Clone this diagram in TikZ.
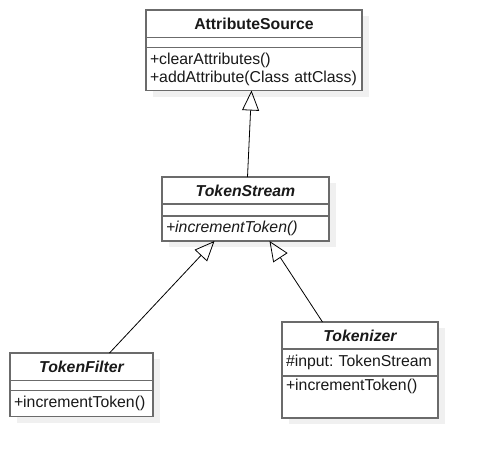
\documentclass[tikz,border=0pt]{standalone}
\usepackage{fontspec}
\setmainfont{Liberation Sans}
\usetikzlibrary{arrows.meta,positioning,shadows}
\frenchspacing

\begin{document}
\begin{tikzpicture}[x=1pt, y=-1pt, >={Triangle[open, length=20pt, width=17pt]},
    cls/.style={draw=black!58, line width=1.6pt, fill=white, outer sep=0pt,
      inner xsep=4pt, inner ysep=3pt, text=black!90,
      font=\fontsize{15.8}{18}\selectfont,
      drop shadow={shadow xshift=7pt, shadow yshift=-6pt, fill=black!6, opacity=1}},
    clshead/.style={cls, minimum height=27.5pt, font=\fontsize{15.8}{18}\selectfont\bfseries},
    abstract/.style={clshead, font=\fontsize{15.8}{18}\selectfont\bfseries\itshape},
    clsattr/.style={cls, minimum height=10pt},
    clsop/.style={cls, align=left},
    inherit/.style={->, line width=0.8pt, black}]
    \useasboundingbox (0,0) rectangle (479,459);
    % --- AttributeSource ---
    \node[clshead, minimum width=216pt, anchor=north west] (as) at (146,10) {AttributeSource};
    \node[clsattr, minimum width=216pt, below=0pt of as] (as-attr) {};
    \node[clsop, text width=208pt, minimum height=43pt, below=0pt of as-attr] (as-op)
      {+clearAttributes()\\+addAttribute(Class attClass)};
    % --- TokenStream (abstract) ---
    \node[abstract, minimum width=167pt, minimum height=27pt, anchor=north west] (ts) at (162,177) {TokenStream};
    \node[clsattr, minimum width=167pt, minimum height=12pt, below=0pt of ts] (ts-attr) {};
    \node[clsop, text width=159pt, minimum height=25pt, below=0pt of ts-attr] (ts-op)
      {\itshape +incrementToken()};
    % --- TokenFilter ---
    \node[abstract, minimum width=143pt, anchor=north west] (tf) at (10,353) {TokenFilter};
    \node[clsattr, minimum width=143pt, below=0pt of tf] (tf-attr) {};
    \node[clsop, text width=135pt, minimum height=26pt, below=0pt of tf-attr] (tf-op)
      {+incrementToken()};
    % --- Tokenizer ---
    \node[abstract, minimum width=156pt, minimum height=27pt, anchor=north west] (tk) at (282,322) {Tokenizer};
    \node[clsop, text width=148pt, minimum height=27pt, below=0pt of tk] (tk-attr)
      {\#input: TokenStream};
    \node[clsop, text width=148pt, minimum height=42pt, text depth=24pt, below=0pt of tk-attr] (tk-op)
      {+incrementToken()};
    % --- generalisation arrows ---
    \draw[inherit] ([xshift=2pt]ts.north) -- ([xshift=-2.5pt]as-op.south);
    \draw[inherit] ([xshift=28pt]tf.north) -- ([xshift=-31pt]ts-op.south);
    \draw[inherit] ([xshift=-37.5pt]tk.north) -- ([xshift=24pt]ts-op.south);
\end{tikzpicture}
\end{document}
